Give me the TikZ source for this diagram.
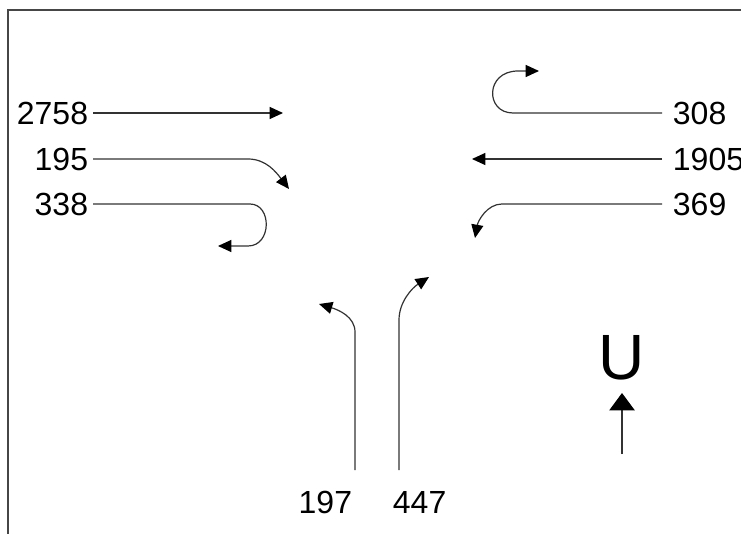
\documentclass[tikz,border=0pt]{standalone}
\usepackage{fontspec}
\setmainfont{Liberation Sans}
\usetikzlibrary{arrows.meta}
\definecolor{flow-line}{RGB}{50,50,50}
\definecolor{frame-line}{RGB}{70,70,70}

\tikzset{
    flow/.style={draw=flow-line, line width=0.9pt, -{Triangle[length=10pt,width=9pt,black]}},
    count/.style={font=\fontsize{24}{28}\selectfont, inner ysep=0pt, inner xsep=3.5pt},
}

\begin{document}
\begin{tikzpicture}[x=0.75pt, y=-0.75pt]
    \useasboundingbox (0,0) rectangle (741,534);
    \draw[frame-line, line width=1.5pt] (741,10) -- (8,10) -- (8,534);

    % approach from the west
    \node[count, anchor=east] (w2758) at (93,113) {2758};
    \node[count, anchor=east] (w195) at (93,159) {195};
    \node[count, anchor=east] (w338) at (93,204) {338};
    \coordinate (w2758end) at (283,113);
    \coordinate (w195end) at (289,189);
    \coordinate (w338end) at (218,246);
    \draw[flow] (w2758) -- (w2758end);
    \draw[flow] (w195) -- (248,159) .. controls (266,159) and (276,172) .. (w195end);
    \draw[flow] (w338) -- (250,204) .. controls (272,204) and (272,246) .. (248,246) -- (w338end);

    % approach from the east
    \node[count, anchor=west, inner xsep=8pt] (e308) at (662,113) {308};
    \node[count, anchor=west, inner xsep=8pt] (e1905) at (662,159) {1905};
    \node[count, anchor=west, inner xsep=8pt] (e369) at (662,204) {369};
    \coordinate (e308end) at (539,71);
    \coordinate (e1905end) at (472,159);
    \coordinate (e369end) at (475,238);
    \draw[flow] (e308) -- (513,113) .. controls (485,113) and (485,71) .. (518,71) -- (e308end);
    \draw[flow] (e1905) -- (e1905end);
    \draw[flow] (e369) -- (502,204) .. controls (487,204) and (478,221) .. (e369end);

    % approach from the south
    \node[count, anchor=east] (s197) at (357,502) {197};
    \node[count, anchor=west] (s447) at (388,502) {447};
    \coordinate (s197start) at (355,470);
    \coordinate (s447start) at (399,470);
    \coordinate (s197end) at (319,304);
    \coordinate (s447end) at (429,277);
    \draw[flow] (s197start) -- (355,332) .. controls (355,317) and (339,310) .. (s197end);
    \draw[flow] (s447start) -- (399,320) .. controls (399,302) and (412,288) .. (s447end);

    % north sign
    \node[font=\fontsize{48}{56}\selectfont, inner sep=0pt] (north) at (622,358) {U};
    \coordinate (northfoot) at (622,454);
    \draw[draw=flow-line, line width=0.9pt, -{Triangle[length=13pt,width=19pt,black]}] (northfoot) -- (622,393);
\end{tikzpicture}
\end{document}
